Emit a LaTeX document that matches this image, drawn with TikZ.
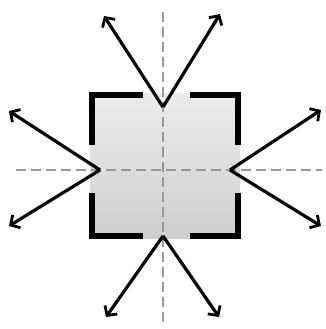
\documentclass[tikz,border=0pt]{standalone}
\usetikzlibrary{arrows.meta}
\begin{document}
\begin{tikzpicture}[x=1pt,y=-1pt,
  axis/.style={gray!80,line width=1.1pt,dash pattern=on 10pt off 5pt},
  bracket/.style={black,line width=5.5pt,line cap=butt,line join=miter},
  ray/.style={black,line width=3.2pt,-{Straight Barb[length=7pt,width=15pt,line width=2.8pt]}}]
\useasboundingbox (0,0) rectangle (325,329);
% square shading
\shade[top color=gray!15,bottom color=gray!38] (90,93) rectangle (240,238);
% axes
\draw[axis] (163,12) -- (163,322);
\draw[axis] (16,170) -- (322,170);
% corner brackets
\draw[bracket] (92,145) -- (92,95) -- (143,95);
\draw[bracket] (190,95) -- (238,95) -- (238,145);
\draw[bracket] (92,193) -- (92,236) -- (143,236);
\draw[bracket] (190,236) -- (238,236) -- (238,193);
% apex coordinates
\coordinate (T) at (163,107);
\coordinate (L) at (100,170);
\coordinate (R) at (230,170);
\coordinate (B) at (163,236);
\coordinate (T1) at (104,16);
\coordinate (T2) at (220,14);
\coordinate (L1) at (9,111);
\coordinate (L2) at (9,226);
\coordinate (R1) at (321,110);
\coordinate (R2) at (321,226);
\coordinate (B1) at (106,317);
\coordinate (B2) at (219,317);
\draw[ray] (T) -- (T1);
\draw[ray] (T) -- (T2);
\draw[ray] (L) -- (L1);
\draw[ray] (L) -- (L2);
\draw[ray] (R) -- (R1);
\draw[ray] (R) -- (R2);
\draw[ray] (B) -- (B1);
\draw[ray] (B) -- (B2);
\end{tikzpicture}
\end{document}
